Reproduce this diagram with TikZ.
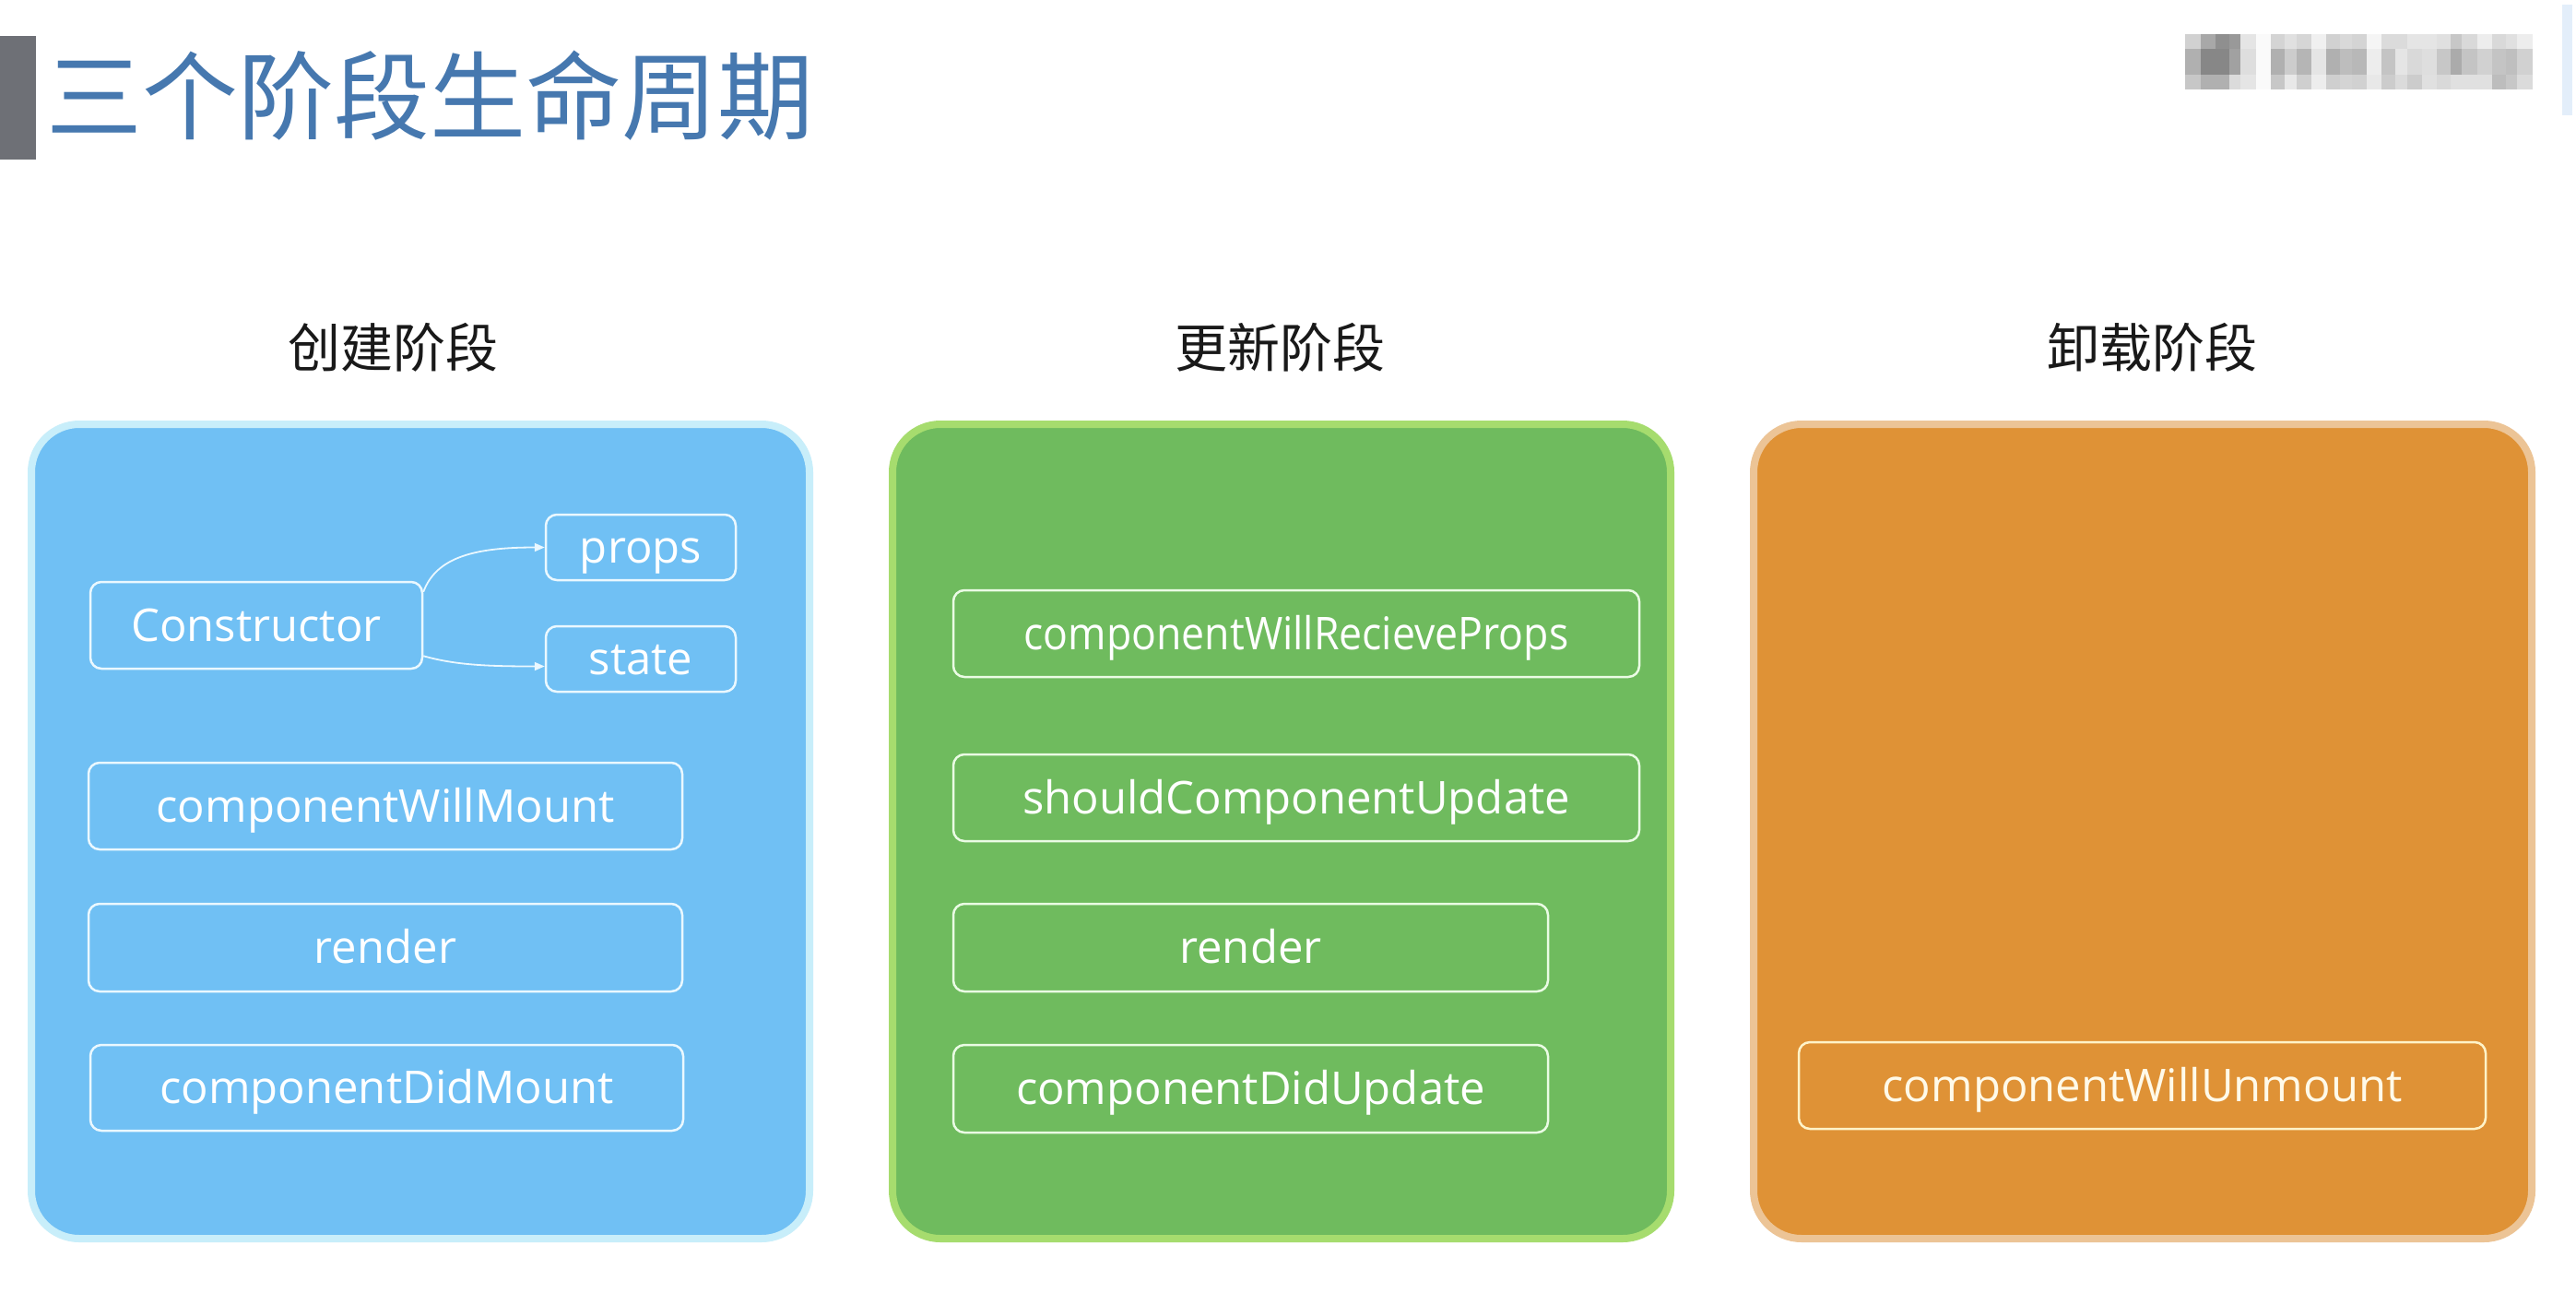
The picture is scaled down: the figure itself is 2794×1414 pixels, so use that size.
\documentclass[tikz,border=0pt]{standalone}
\usepackage{graphicx}
\usepackage{fontspec}
\setmainfont{Open Sans}
\newfontfamily\cjk{Noto Sans CJK SC}
\usetikzlibrary{arrows.meta}
\definecolor{titleblue}{HTML}{4678AF}
\definecolor{bargray}{HTML}{6E7076}
\definecolor{bluefill}{HTML}{70C0F4}
\definecolor{blueedge}{HTML}{C8EEFA}
\definecolor{greenfill}{HTML}{6FBB5E}
\definecolor{greenedge}{HTML}{A6DC6E}
\definecolor{orangefill}{HTML}{DF9236}
\definecolor{orangeedge}{HTML}{ECC496}
\definecolor{blueline}{HTML}{EAF8FF}
\definecolor{greenline}{HTML}{EAFBE4}
\definecolor{orangeline}{HTML}{FFF3C8}
\definecolor{logobar}{HTML}{E3EEFA}
\tikzset{
  panel/.style={rectangle, rounded corners=52pt, line width=8pt, inner sep=0pt,
    minimum width=844pt, minimum height=883pt},
  stagehead/.style={font=\cjk\fontsize{57}{60}\selectfont, text=black!90, inner sep=0pt},
  fnbox/.style={rectangle, rounded corners=12pt, line width=2.5pt, inner sep=0pt,
    text height=40pt, text depth=6pt,
    text=white, font=\fontsize{49}{52}\selectfont},
  bluebox/.style={fnbox, draw=blueline},
  greenbox/.style={fnbox, draw=greenline},
  orangebox/.style={fnbox, draw=orangeline, text=orangeline!40!white},
  arr/.style={draw=blueline, line width=1.8pt, -{Triangle[length=11pt,width=9pt]}}
}
\begin{document}
\begin{tikzpicture}[x=1pt,y=-1pt]
\useasboundingbox (0,0) rectangle (2794,1414);
\fill[white] (0,0) rectangle (2794,1414);

% title
\fill[bargray] (0,39) rectangle (39,173);
\node[anchor=west, inner sep=0pt, text=titleblue, font=\cjk\fontsize{104}{110}\selectfont] (title) at (50,104) {三个阶段生命周期};

% blurred logo (pixelated)
\foreach \xa/\xb/\da/\db/\dc in {
 2370/2387/18/31/22, 2387/2403/34/47/31, 2403/2418/44/47/31, 2418/2430/40/37/14,
 2430/2447/10/13/10, 2447/2463/2/2/2, 2463/2478/17/31/22, 2478/2491/12/20/9,
 2491/2507/16/29/19, 2507/2523/6/10/7, 2523/2538/18/31/19, 2538/2551/15/26/17,
 2551/2567/17/28/18, 2567/2583/4/7/9, 2583/2598/14/23/20, 2598/2611/14/10/14,
 2611/2627/10/15/20, 2627/2643/10/13/12, 2643/2658/12/22/15, 2658/2670/22/33/12,
 2670/2687/15/23/12, 2687/2703/7/18/12, 2703/2718/15/23/26, 2718/2730/12/25/22,
 2730/2747/7/18/14}{
  \fill[black!\da] (\xa,37) rectangle (\xb,53);
  \fill[black!\db] (\xa,53) rectangle (\xb,81);
  \fill[black!\dc] (\xa,81) rectangle (\xb,97);
}
\fill[logobar] (2779,5) rectangle (2790,125);

% stage headings
\node[stagehead] (h1) at (426,377) {创建阶段};
\node[stagehead] (h2) at (1388,377) {更新阶段};
\node[stagehead] (h3) at (2334,377) {卸载阶段};

% panels
\node[panel, fill=bluefill, draw=blueedge] (p1) at (456,901.5) {};
\node[panel, fill=greenfill, draw=greenedge] (p2) at (1390,901.5) {};
\node[panel, fill=orangefill, draw=orangeedge] (p3) at (2324,901.5) {};

% creation phase
\node[bluebox, minimum width=360pt, minimum height=94pt] (con) at (278,678) {Constructor};
\node[bluebox, minimum width=206pt, minimum height=71pt] (props) at (695,593.5) {props};
\node[bluebox, minimum width=206pt, minimum height=71pt] (state) at (695,714.5) {state};
\node[bluebox, minimum width=644pt, minimum height=94pt] (cwm) at (418,874) {componentWillMount};
\node[bluebox, minimum width=644pt, minimum height=95pt] (render1) at (418,1027.5) {render};
\node[bluebox, minimum width=643pt, minimum height=93pt] (cdm) at (419.5,1179.5) {componentDidMount};

\draw[arr] ([yshift=-12pt]con.north east) .. controls +(14,-38) and +(-75,0) .. (props.west);
\draw[arr] ([yshift=15pt]con.south east) .. controls +(35,10) and +(-60,0) .. ([yshift=-8pt]state.west);

% update phase
\node[greenbox, minimum width=744pt, minimum height=94pt] (cwrp) at (1406,687) {\scalebox{0.91}[1]{componentWillRecieveProps}};
\node[greenbox, minimum width=744pt, minimum height=94pt] (scu) at (1406,865) {shouldComponentUpdate};
\node[greenbox, minimum width=645pt, minimum height=95pt] (render2) at (1356.5,1027.5) {render};
\node[greenbox, minimum width=645pt, minimum height=95pt] (cdu) at (1356.5,1180.5) {componentDidUpdate};

% unmount phase
\node[orangebox, minimum width=745pt, minimum height=94pt] (cwu) at (2323.5,1177) {componentWillUnmount};
\end{tikzpicture}
\end{document}
